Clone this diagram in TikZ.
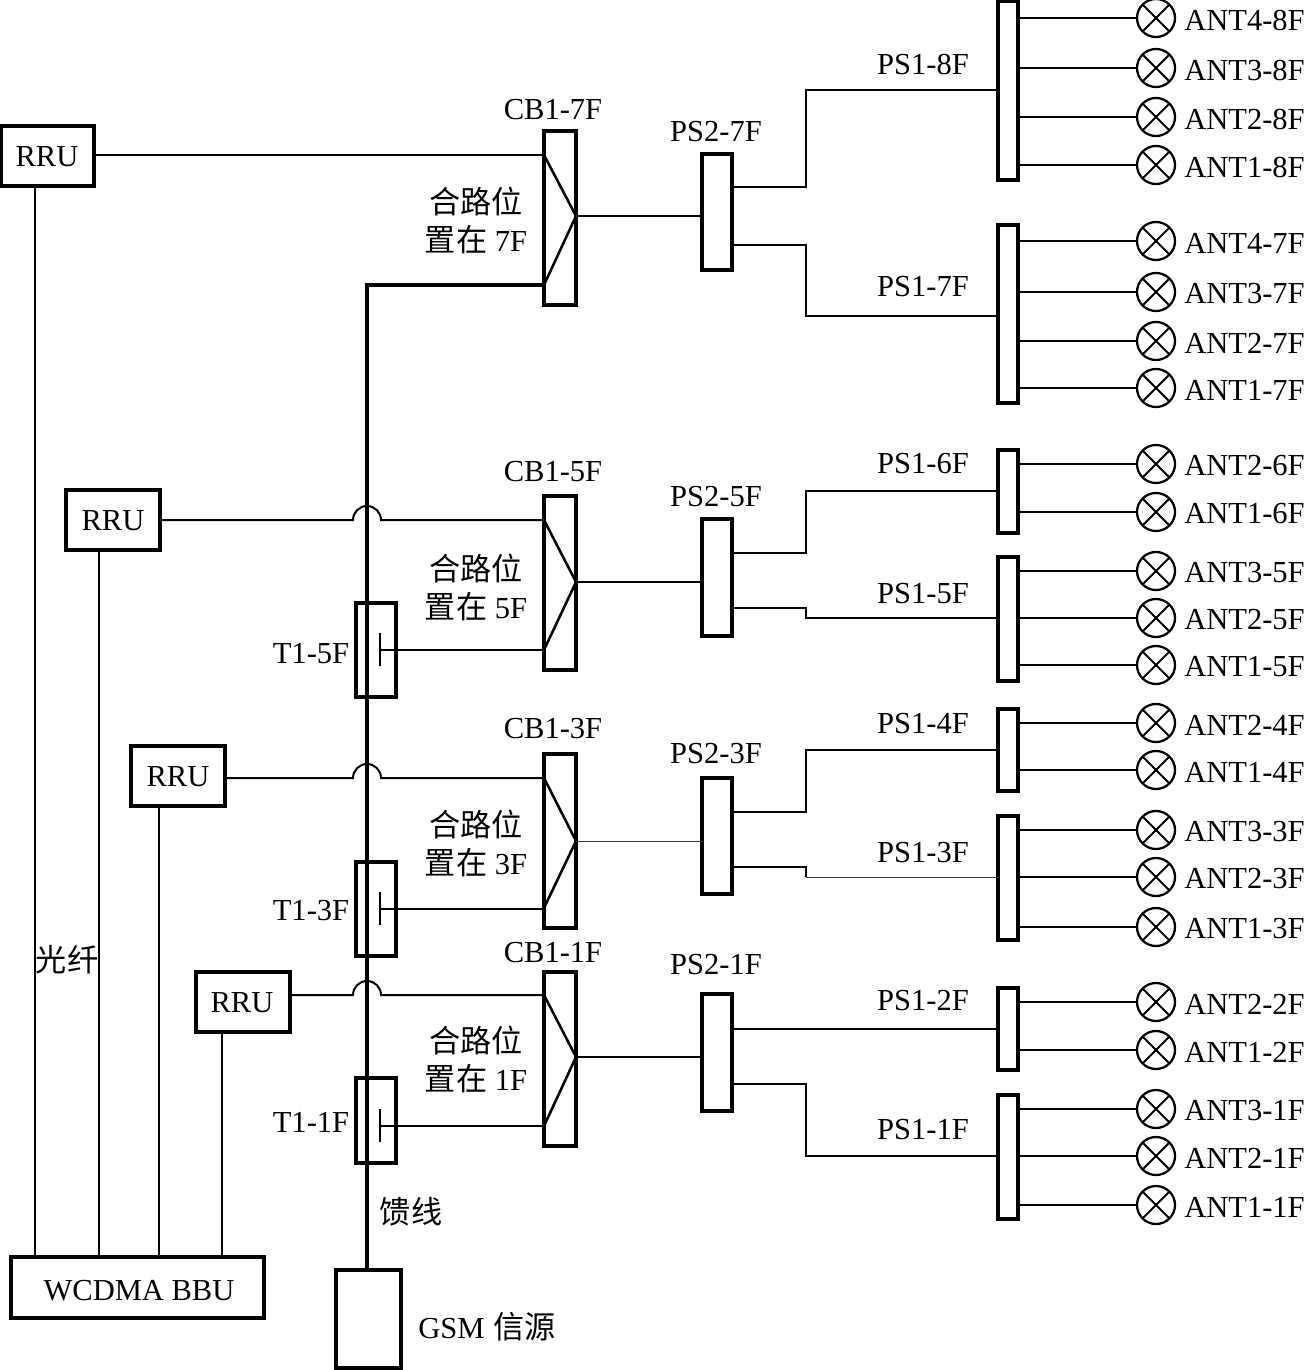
\documentclass[tikz,border=0pt]{standalone}
\usepackage{fontspec}
\setmainfont{Liberation Serif}
\newfontfamily\cjk{Noto Sans CJK SC}[Scale=1.02]
\newcommand{\mybox}[5]{\node[bxs,minimum width={(#4-#2)*0.75pt},minimum height={(#5-#3)*0.75pt}] (#1) at ({(#2+#4)/2},{(#3+#5)/2}) {};}
\newcommand{\myant}[4]{% ps1 node, name, y, label
  \node[antc] (#2) at (1156,#3) {};
  \draw[wire] (#1.east |- #2) -- (#2);
  \node[lbl,anchor=west] (#2t) at (1184,#3+2) {#4};}
\newcommand{\myroute}[5][wire]{% style, ps2, yout, ps1, yin
  \draw[#1] (#2.east |- 0,#3) -- (806,#3) -- (806,#5) -- (#4.west |- 0,#5);}
\newcommand{\mycb}[4]{% cb, y1, y2, apex
  \draw[wire2] (#1.west |- 0,#2) -- (#1.east |- 0,#4) -- (#1.west |- 0,#3);}
\tikzset{
  x=0.75pt,y=-0.75pt,
  bxs/.style={draw,line width=2.4pt,inner sep=0pt,outer sep=0pt},
  wire/.style={line width=1.5pt},
  wire2/.style={line width=1.9pt},
  thinw/.style={line width=0.7pt,draw=black!75},
  trunk/.style={line width=2.4pt},
  lbl/.style={inner sep=0pt,font=\fontsize{22.9}{25}\selectfont},
  antc/.style={circle,draw,line width=1.7pt,minimum size=28.5pt,inner sep=0pt,outer sep=0pt,
    path picture={\draw[line width=1.4pt] (path picture bounding box.north west)--(path picture bounding box.south east)
      (path picture bounding box.north east)--(path picture bounding box.south west);}},
}
\begin{document}
\begin{tikzpicture}
\useasboundingbox (0,0) rectangle (1306,1370);
% boxes
\mybox{rrua}{1}{126}{94}{186}
\mybox{rrub}{66}{490}{160}{550}
\mybox{rruc}{131}{746}{225}{806}
\mybox{rrud}{196}{972}{290}{1032}
\node[lbl] (rruat) at (47,157) {RRU};
\node[lbl] (rrubt) at (113,521) {RRU};
\node[lbl] (rruct) at (178,777) {RRU};
\node[lbl] (rrudt) at (242,1003) {RRU};
\mybox{bbu}{11}{1257}{264}{1318}
\node[lbl] (bbut) at (139,1291) {WCDMA BBU};
\mybox{gsm}{336}{1270}{401}{1368}
\node[lbl,anchor=west] (gsmt) at (418,1327) {GSM\hspace{0.3em}{\cjk 信源}};
\mybox{cba}{544}{131}{576}{305}
\mybox{cbb}{544}{496}{576}{670}
\mybox{cbc}{544}{754}{576}{928}
\mybox{cbd}{544}{972}{576}{1146}
\mybox{psa}{702}{154}{732}{270}
\mybox{psb}{702}{519}{732}{636}
\mybox{psc}{702}{778}{732}{894}
\mybox{psd}{702}{994}{732}{1111}
\mybox{taa}{356}{603}{396}{697}
\mybox{tab}{356}{862}{396}{956}
\mybox{tac}{356}{1078}{396}{1163}
\mybox{sa}{998}{1}{1018}{180}
\mybox{sb}{998}{225}{1018}{403}
\mybox{sc}{998}{450}{1018}{533}
\mybox{sd}{998}{557}{1018}{681}
\mybox{se}{998}{709}{1018}{791}
\mybox{sf}{998}{816}{1018}{940}
\mybox{sg}{998}{988}{1018}{1070}
\mybox{sh}{998}{1095}{1018}{1219}
% fibres
\draw[wire] (rrua.south -| 35,0) -- (bbu.north -| 35,0);
\draw[wire] (rrub.south -| 99,0) -- (bbu.north -| 99,0);
\draw[wire] (rruc.south -| 159,0) -- (bbu.north -| 159,0);
\draw[wire] (rrud.south -| 222,0) -- (bbu.north -| 222,0);
% trunk
\draw[trunk] (cba.west |- 0,285) -- (367,285) -- (gsm.north -| 367,0);
% RRU to combiner
\draw[wire] (rrua.east |- 0,155) -- (cba.west |- 0,155);
\draw[wire] (rrub.east |- 0,520) -- (353,520) arc[start angle=180,end angle=0,radius=10.5pt] -- (cbb.west |- 0,520);
\draw[wire] (rruc.east |- 0,778) -- (353,778) arc[start angle=180,end angle=0,radius=10.5pt] -- (cbc.west |- 0,778);
\draw[wire] (rrud.east |- 0,995) -- (353,995) arc[start angle=180,end angle=0,radius=10.5pt] -- (cbd.west |- 0,995);
% tappers
\draw[wire] (380,633) -- (380,666) (380,650) -- (cbb.west |- 0,650);
\draw[wire] (380,892) -- (380,925) (380,909) -- (cbc.west |- 0,909);
\draw[wire] (380,1109) -- (380,1142) (380,1126) -- (cbd.west |- 0,1126);
% combiner inner
\mycb{cba}{155}{285}{216}
\mycb{cbb}{520}{650}{582}
\mycb{cbc}{778}{908}{841}
\mycb{cbd}{995}{1126}{1057}
\draw[wire] (cba.east |- 0,216) -- (psa.west |- 0,216);
\draw[wire] (cbb.east |- 0,582) -- (psb.west |- 0,582);
\draw[thinw] (cbc.east |- 0,841) -- (psc.west |- 0,841);
\draw[wire] (cbd.east |- 0,1057) -- (psd.west |- 0,1057);
% PS2 to PS1
\myroute[wire2]{psa}{187}{sa}{90}
\myroute{psa}{245}{sb}{316}
\myroute{psb}{553}{sc}{491}
\myroute{psb}{608}{sd}{618}
\myroute{psc}{812}{se}{750}
\draw[wire] (psc.east |- 0,867) -- (806,867) -- (806,877);
\draw[thinw] (806,877) -- (sf.west |- 0,877);
\draw[wire] (psd.east |- 0,1029) -- (sg.west |- 0,1029);
\myroute{psd}{1084}{sh}{1156}
% antennas
\myant{sa}{a48}{18}{ANT4-8F}
\myant{sa}{a38}{68}{ANT3-8F}
\myant{sa}{a28}{117}{ANT2-8F}
\myant{sa}{a18}{165}{ANT1-8F}
\myant{sb}{a47}{241}{ANT4-7F}
\myant{sb}{a37}{292}{ANT3-7F}
\myant{sb}{a27}{341}{ANT2-7F}
\myant{sb}{a17}{388}{ANT1-7F}
\myant{sc}{a26}{464}{ANT2-6F}
\myant{sc}{a16}{512}{ANT1-6F}
\myant{sd}{a35}{571}{ANT3-5F}
\myant{sd}{a25}{618}{ANT2-5F}
\myant{sd}{a15}{665}{ANT1-5F}
\myant{se}{a24}{723}{ANT2-4F}
\myant{se}{a14}{770}{ANT1-4F}
\myant{sf}{a33}{830}{ANT3-3F}
\myant{sf}{a23}{877}{ANT2-3F}
\myant{sf}{a13}{927}{ANT1-3F}
\myant{sg}{a22}{1002}{ANT2-2F}
\myant{sg}{a12}{1050}{ANT1-2F}
\myant{sh}{a31}{1109}{ANT3-1F}
\myant{sh}{a21}{1156}{ANT2-1F}
\myant{sh}{a11}{1205}{ANT1-1F}
% labels
\node[lbl] (l1) at (553,110) {CB1-7F};
\node[lbl] (l2) at (553,472) {CB1-5F};
\node[lbl] (l3) at (553,729) {CB1-3F};
\node[lbl] (l4) at (553,953) {CB1-1F};
\node[lbl] (l5) at (716,132) {PS2-7F};
\node[lbl] (l6) at (716,497) {PS2-5F};
\node[lbl] (l7) at (716,754) {PS2-3F};
\node[lbl] (l8) at (716,965) {PS2-1F};
\node[lbl] (m1) at (923,64) {PS1-8F};
\node[lbl] (m2) at (923,287) {PS1-7F};
\node[lbl] (m3) at (923,464) {PS1-6F};
\node[lbl] (m4) at (923,594) {PS1-5F};
\node[lbl] (m5) at (923,724) {PS1-4F};
\node[lbl] (m6) at (923,853) {PS1-3F};
\node[lbl] (m7) at (923,1001) {PS1-2F};
\node[lbl] (m8) at (923,1130) {PS1-1F};
\node[lbl] (t1) at (311,654) {T1-5F};
\node[lbl] (t2) at (311,911) {T1-3F};
\node[lbl] (t3) at (311,1122) {T1-1F};
\node[lbl] (c1) at (476,202) {\cjk 合路位};
\node[lbl] (c2) at (476,240) {{\cjk 置在} 7F};
\node[lbl] (c3) at (476,569) {\cjk 合路位};
\node[lbl] (c4) at (476,607) {{\cjk 置在} 5F};
\node[lbl] (c5) at (476,825) {\cjk 合路位};
\node[lbl] (c6) at (476,863) {{\cjk 置在} 3F};
\node[lbl] (c7) at (476,1041) {\cjk 合路位};
\node[lbl] (c8) at (476,1079) {{\cjk 置在} 1F};
\node[lbl] (g1) at (67,960) {\cjk 光纤};
\node[lbl] (g2) at (411,1212) {\cjk 馈线};
\end{tikzpicture}
\end{document}
